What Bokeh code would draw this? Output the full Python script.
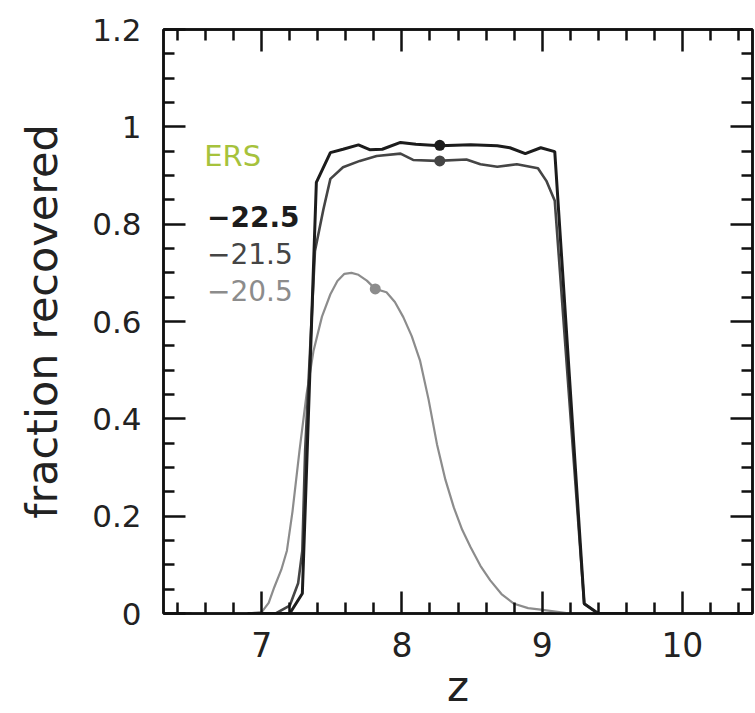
from bokeh.plotting import figure
from bokeh.models import (LinearAxis, FixedTicker, CustomJSTickFormatter,
                          Range1d, Label)
from bokeh.embed import file_html
from bokeh.resources import INLINE

# ---- data ----
z_m225 = [6.9, 7.2, 7.29, 7.39, 7.49, 7.58, 7.69, 7.77, 7.86, 7.99, 8.10, 8.27,
          8.49, 8.68, 8.77, 8.88, 8.99, 9.09, 9.30, 9.40, 9.6]
f_m225 = [0.0, 0.0, 0.041, 0.886, 0.947, 0.954, 0.963, 0.953, 0.954, 0.968, 0.964, 0.961,
          0.963, 0.961, 0.957, 0.945, 0.957, 0.949, 0.02, 0.0, 0.0]

z_m215 = [6.9, 7.1, 7.2, 7.26, 7.29, 7.31, 7.38, 7.44, 7.49, 7.58, 7.70, 7.82, 7.99,
          8.08, 8.25, 8.46, 8.56, 8.68, 8.82, 8.97, 9.03, 9.09, 9.30, 9.40, 9.6]
f_m215 = [0.0, 0.0, 0.016, 0.062, 0.129, 0.335, 0.745, 0.83, 0.893, 0.917, 0.930, 0.940,
          0.945, 0.932, 0.930, 0.933, 0.923, 0.918, 0.923, 0.915, 0.889, 0.848, 0.02, 0.0, 0.0]

z_m205 = [6.5, 6.9, 7.0, 7.05, 7.09, 7.14, 7.18, 7.22, 7.27, 7.32, 7.37, 7.43, 7.49,
          7.54, 7.59, 7.64, 7.69, 7.75, 7.81, 7.89, 7.95, 8.01, 8.07, 8.13, 8.19,
          8.25, 8.31, 8.37, 8.43, 8.49, 8.56, 8.63, 8.71, 8.80, 8.90, 8.99, 9.2, 9.6]
f_m205 = [0.0, 0.0, 0.003, 0.022, 0.054, 0.09, 0.129, 0.21, 0.335, 0.45, 0.54, 0.61, 0.656,
          0.683, 0.698, 0.70, 0.696, 0.684, 0.667, 0.660, 0.640, 0.609, 0.570, 0.519, 0.44,
          0.348, 0.275, 0.218, 0.172, 0.136, 0.098, 0.068, 0.040, 0.02, 0.011, 0.008, 0.0, 0.0]

marker_z = [8.27, 8.27, 7.81]
marker_f = [0.962, 0.930, 0.667]

series_labels = ["\u221222.5", "\u221221.5", "\u221220.5"]
series_colors = ["#1c1c1c", "#454545", "#8c8c8c"]
title_label = "ERS"

x_major = [7, 8, 9, 10]
x_minor = [6.4, 6.6, 6.8, 7.2, 7.4, 7.6, 7.8, 8.2, 8.4, 8.6, 8.8,
           9.2, 9.4, 9.6, 9.8, 10.2, 10.4]
y_major = [0, 0.2, 0.4, 0.6, 0.8, 1.0, 1.2]
y_minor = [0.05, 0.1, 0.15, 0.25, 0.3, 0.35, 0.45, 0.5, 0.55, 0.65, 0.7, 0.75,
           0.85, 0.9, 0.95, 1.05, 1.1, 1.15]

FONT = "DejaVu Sans"

p = figure(width=755, height=713, x_range=Range1d(6.3, 10.5), y_range=Range1d(0, 1.2),
           output_backend="svg", toolbar_location=None,
           min_border_left=163, min_border_right=3, min_border_top=29, min_border_bottom=100,
           background_fill_color="white", border_fill_color="white")
p.grid.visible = False
p.outline_line_color = "#111111"
p.outline_line_width = 2.5

yfmt = CustomJSTickFormatter(code="return tick.toFixed(1).replace(/\\.0$/, '');")
blank = CustomJSTickFormatter(code="return '';")


def style_axis(ax):
    ax.axis_line_color = "#111111"
    ax.axis_line_width = 2.5
    ax.major_tick_line_color = "#111111"
    ax.major_tick_line_width = 2.5
    ax.minor_tick_line_color = "#111111"
    ax.minor_tick_line_width = 2.5
    ax.major_tick_in = 22
    ax.major_tick_out = 0
    ax.minor_tick_in = 11
    ax.minor_tick_out = 0
    ax.major_label_text_font = FONT
    ax.major_label_text_color = "#222222"
    ax.axis_label_text_font = FONT
    ax.axis_label_text_font_style = "normal"
    ax.axis_label_text_color = "#222222"


p.xaxis.ticker = FixedTicker(ticks=x_major, minor_ticks=x_minor)
p.yaxis.ticker = FixedTicker(ticks=y_major, minor_ticks=y_minor)
p.yaxis.formatter = yfmt
for ax in p.xaxis + p.yaxis:
    style_axis(ax)
p.xaxis.axis_label = "z"
p.yaxis.axis_label = "fraction recovered"
p.xaxis.major_label_text_font_size = "33px"
p.yaxis.major_label_text_font_size = "31px"
p.xaxis.axis_label_text_font_size = "42px"
p.yaxis.axis_label_text_font_size = "43px"
p.xaxis.major_label_standoff = 18
p.yaxis.major_label_standoff = 22
p.xaxis.axis_label_standoff = 2
p.yaxis.axis_label_standoff = 22

top = LinearAxis(ticker=FixedTicker(ticks=x_major, minor_ticks=x_minor),
                 formatter=blank, major_label_standoff=0)
right = LinearAxis(ticker=FixedTicker(ticks=y_major, minor_ticks=y_minor),
                   formatter=blank, major_label_standoff=0)
style_axis(top)
style_axis(right)
p.add_layout(top, "above")
p.add_layout(right, "right")

p.line(z_m205, f_m205, line_color=series_colors[2], line_width=2.2)
p.line(z_m215, f_m215, line_color=series_colors[1], line_width=2.6)
p.line(z_m225, f_m225, line_color=series_colors[0], line_width=3)

p.scatter(marker_z, marker_f, size=11, color=series_colors, line_color=None)

p.add_layout(Label(x=6.59, y=0.94, text=title_label, text_font=FONT, text_font_size="29px",
                   text_color="#a6c23c", text_baseline="middle", text_align="left"))
for lab, col, yy in zip(series_labels, series_colors, [0.815, 0.739, 0.663]):
    p.add_layout(Label(x=6.61, y=yy, text=lab, text_font=FONT, text_font_size="28px",
                       text_color=col, text_baseline="middle", text_align="left",
                       text_font_style="bold" if lab == series_labels[0] else "normal"))

open("out.html", "w").write(file_html(p, INLINE))
